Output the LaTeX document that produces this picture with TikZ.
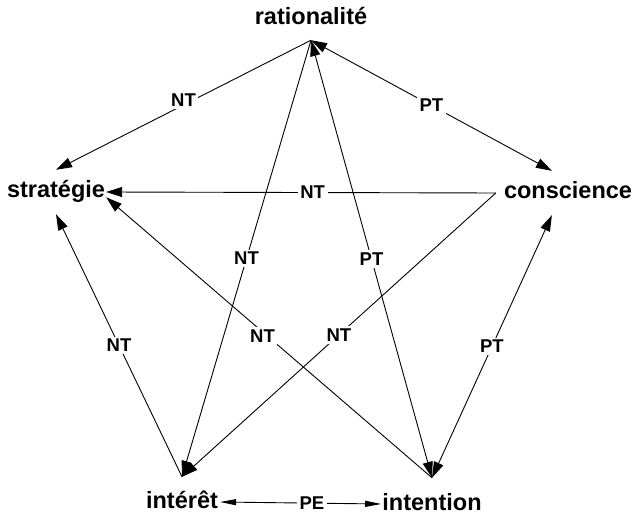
\documentclass[tikz,border=0pt]{standalone}
\usepackage{fontspec}
\setmainfont{Liberation Sans}
\usepackage{tikz}
\usetikzlibrary{arrows.meta,positioning,calc}
\tikzset{
  concept/.style={font=\bfseries\fontsize{23.5}{28}\selectfont,
                  inner sep=0pt,text height=17pt,text depth=5pt,anchor=base},
  edgelbl/.style={fill=white,inner sep=2.5pt,
                  font=\bfseries\fontsize{18.5}{21}\selectfont},
  onearr/.style={-{Triangle[length=16pt,width=10pt]},line width=0.9pt},
  twoarr/.style={{Triangle[length=16pt,width=10pt]}-{Triangle[length=16pt,width=10pt]},line width=0.9pt},
  pearr/.style={{Triangle[length=16pt,width=6pt]}-{Triangle[length=16pt,width=6pt]},line width=0.9pt}
}

\begin{document}
\begin{tikzpicture}[x=1pt,y=-1pt]
  \useasboundingbox (0,0) rectangle (644,518);

  % Concepts
  \node[concept,inner ysep=10pt] (rat) at (311,25) {rationalité};
  \node[concept,inner xsep=1pt,inner ysep=11pt] (str) at (56,198) {stratégie};
  \node[concept,inner xsep=8pt,inner ysep=11pt] (con) at (568,199) {conscience};
  \node[concept,inner xsep=2pt,inner ysep=14pt] (int) at (182,508) {intérêt};
  \node[concept,inner xsep=1pt,inner ysep=15pt] (itn) at (432,510) {intention};

  % Outer pentagon
  \draw[onearr] (rat.south) -- node[edgelbl,yshift=5pt] {NT} (str.north);
  \draw[twoarr] (rat.south) -- node[edgelbl] {PT} (con.126);
  \draw[twoarr] (con.-126) -- node[edgelbl] {PT} (itn.north);
  \draw[onearr] (int.north) -- node[edgelbl] {NT} (str.south);
  \draw[pearr] (int.east) -- node[edgelbl,pos=0.57] {PE} (itn.west);

  % Inner star
  \draw[onearr] (con.west) -- node[edgelbl,pos=0.47] {NT} (str.east);
  \draw[onearr] (con.west) -- node[edgelbl] {NT} (int.north);
  \draw[onearr] (rat.south) -- node[edgelbl] {NT} (int.north);
  \draw[twoarr] (rat.south) -- node[edgelbl] {PT} (itn.north);
  \draw[onearr] (itn.north) -- node[edgelbl,pos=0.52,yshift=-4pt] {NT} (str.-6);
\end{tikzpicture}
\end{document}
